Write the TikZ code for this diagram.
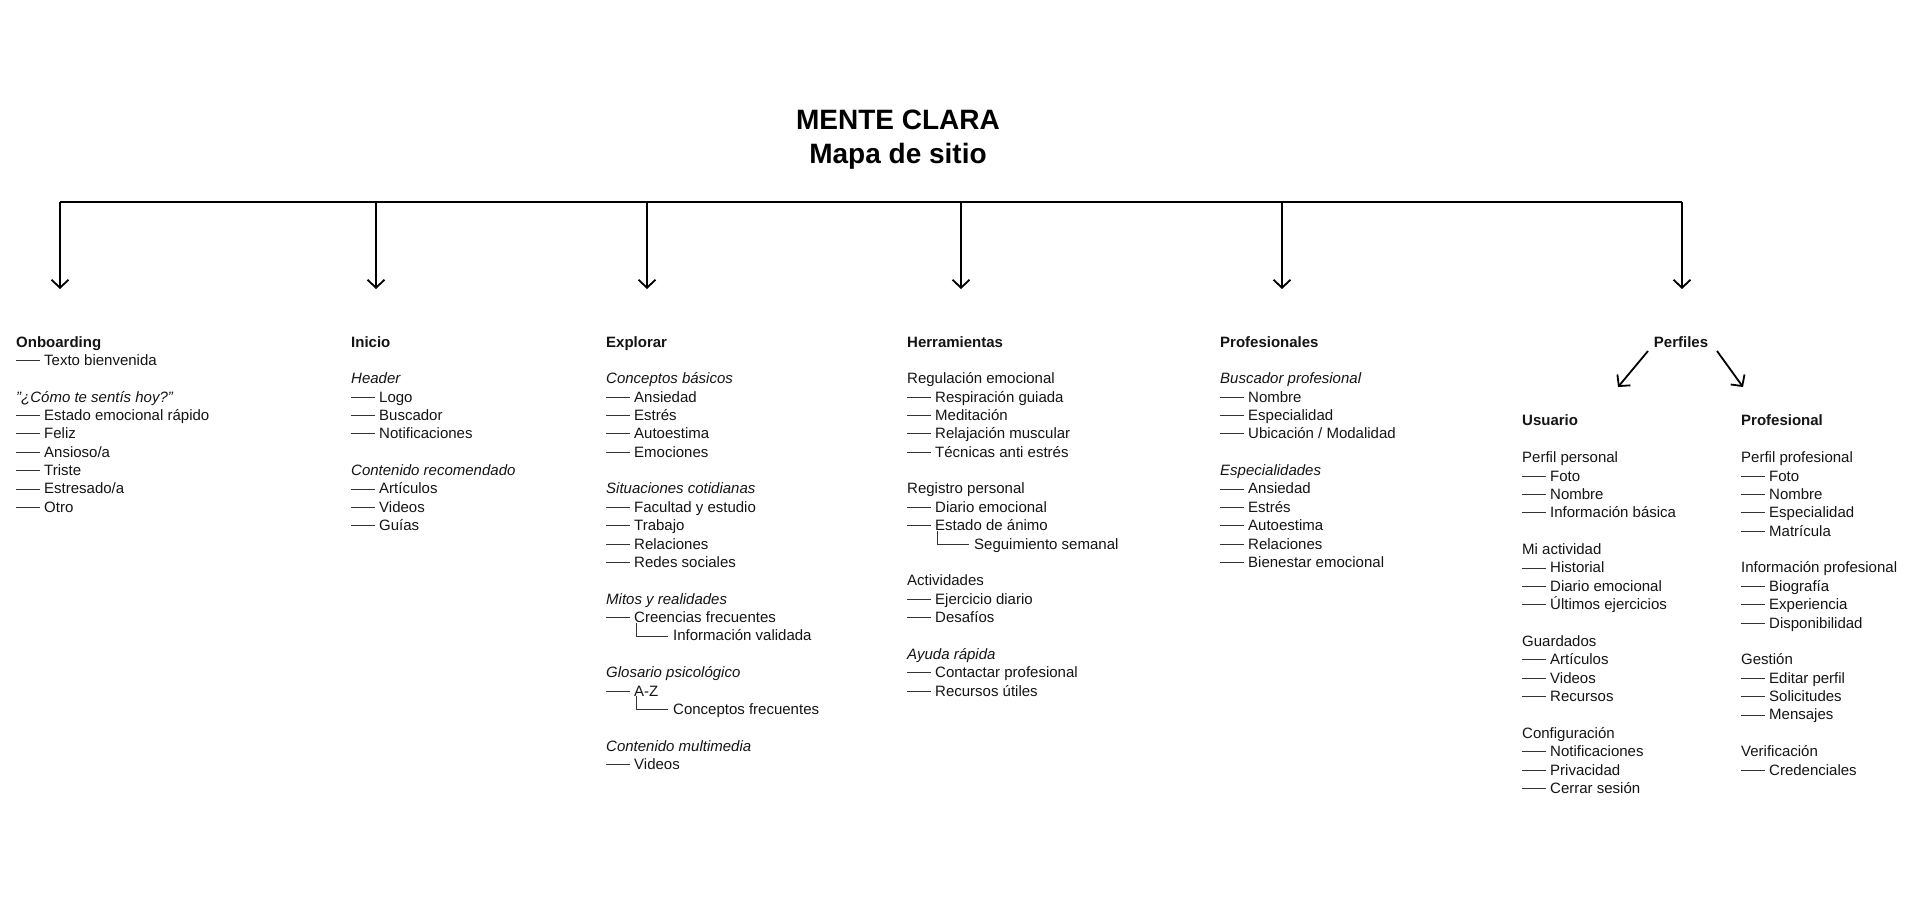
\documentclass[tikz,border=0pt]{standalone}
\usepackage{fontspec}
\setmainfont{Liberation Sans}
\usetikzlibrary{arrows.meta}
\newcounter{nn}
\tikzset{
  txt/.style={anchor=base west,inner sep=0pt,font=\fontsize{15}{18}\selectfont,text=black!92},
  bold/.style={txt,font=\fontsize{15}{18}\selectfont\bfseries},
  ital/.style={txt,font=\fontsize{15}{18}\selectfont\itshape},
  lfdash/.style={line width=0.8pt,black!80},
  arr/.style={line width=1.8pt,-{Straight Barb[length=8pt,width=17pt,line width=1.8pt]}},
}
\newcommand\ry[1]{{347+18.37*(#1)}}
\newcommand\Hd[3]{\stepcounter{nn}\node[bold] (n\thenn) at (#1,\ry{#2}) {#3};}
\newcommand\Gp[3]{\stepcounter{nn}\node[ital] (n\thenn) at (#1,\ry{#2}) {#3};}
\newcommand\Rg[3]{\stepcounter{nn}\node[txt] (n\thenn) at (#1,\ry{#2}) {#3};}
\newcommand\Lf[3]{\stepcounter{nn}%
  \coordinate (d\thenn) at (#1,{347+18.37*(#2)-5});
  \node[txt] (n\thenn) at ({#1+28},\ry{#2}) {#3};
  \draw[lfdash] (d\thenn) -- ++(24,0);}
\newcommand\Sb[3]{\stepcounter{nn}%
  \coordinate (s\thenn) at ({#1+30},{347+18.37*(#2)-5-13});
  \coordinate (d\thenn) at ({#1+30},{347+18.37*(#2)-5});
  \node[txt] (n\thenn) at ({#1+67},\ry{#2}) {#3};
  \draw[lfdash] (s\thenn) -- (d\thenn) -- ++(32,0);}
\begin{document}
\begin{tikzpicture}[x=1pt,y=-1pt]
\useasboundingbox (0,0) rectangle (1920,900);
\node[font=\fontsize{28}{34}\selectfont\bfseries,align=center,inner sep=0pt] (title) at (898,140) {MENTE CLARA\\Mapa de sitio};
\foreach \i/\x in {1/60,2/376,3/647,4/961,5/1282,6/1682}{
  \coordinate (t\i) at (\x,202);
  \coordinate (h\i) at (\x,289);
  \draw[arr] (t\i) -- (h\i);
}
\draw[line width=1.5pt] (t1) -- (t6);
% Onboarding
\Hd{16}{0}{Onboarding}
\Lf{16}{1}{Texto bienvenida}
\Gp{16}{3}{"¿Cómo te sentís hoy?"}
\Lf{16}{4}{Estado emocional rápido}
\Lf{16}{5}{Feliz}
\Lf{16}{6}{Ansioso/a}
\Lf{16}{7}{Triste}
\Lf{16}{8}{Estresado/a}
\Lf{16}{9}{Otro}
% Inicio
\Hd{351}{0}{Inicio}
\Gp{351}{2}{Header}
\Lf{351}{3}{Logo}
\Lf{351}{4}{Buscador}
\Lf{351}{5}{Notificaciones}
\Gp{351}{7}{Contenido recomendado}
\Lf{351}{8}{Artículos}
\Lf{351}{9}{Videos}
\Lf{351}{10}{Guías}
% Explorar
\Hd{606}{0}{Explorar}
\Gp{606}{2}{Conceptos básicos}
\Lf{606}{3}{Ansiedad}
\Lf{606}{4}{Estrés}
\Lf{606}{5}{Autoestima}
\Lf{606}{6}{Emociones}
\Gp{606}{8}{Situaciones cotidianas}
\Lf{606}{9}{Facultad y estudio}
\Lf{606}{10}{Trabajo}
\Lf{606}{11}{Relaciones}
\Lf{606}{12}{Redes sociales}
\Gp{606}{14}{Mitos y realidades}
\Lf{606}{15}{Creencias frecuentes}
\Sb{606}{16}{Información validada}
\Gp{606}{18}{Glosario psicológico}
\Lf{606}{19}{A-Z}
\Sb{606}{20}{Conceptos frecuentes}
\Gp{606}{22}{Contenido multimedia}
\Lf{606}{23}{Videos}
% Herramientas
\Hd{907}{0}{Herramientas}
\Rg{907}{2}{Regulación emocional}
\Lf{907}{3}{Respiración guiada}
\Lf{907}{4}{Meditación}
\Lf{907}{5}{Relajación muscular}
\Lf{907}{6}{Técnicas anti estrés}
\Rg{907}{8}{Registro personal}
\Lf{907}{9}{Diario emocional}
\Lf{907}{10}{Estado de ánimo}
\Sb{907}{11}{Seguimiento semanal}
\Rg{907}{13}{Actividades}
\Lf{907}{14}{Ejercicio diario}
\Lf{907}{15}{Desafíos}
\Gp{907}{17}{Ayuda rápida}
\Lf{907}{18}{Contactar profesional}
\Lf{907}{19}{Recursos útiles}
% Profesionales
\Hd{1220}{0}{Profesionales}
\Gp{1220}{2}{Buscador profesional}
\Lf{1220}{3}{Nombre}
\Lf{1220}{4}{Especialidad}
\Lf{1220}{5}{Ubicación / Modalidad}
\Gp{1220}{7}{Especialidades}
\Lf{1220}{8}{Ansiedad}
\Lf{1220}{9}{Estrés}
\Lf{1220}{10}{Autoestima}
\Lf{1220}{11}{Relaciones}
\Lf{1220}{12}{Bienestar emocional}
% Perfiles
\node[bold,anchor=base] (perf) at (1681,\ry{0}) {Perfiles};
\coordinate (pl1) at (1648,351); \coordinate (pl2) at (1618,387);
\coordinate (pr1) at (1717,351); \coordinate (pr2) at (1743,387);
\draw[arr] (pl1) -- (pl2);
\draw[arr] (pr1) -- (pr2);
\Hd{1522}{4.3}{Usuario}
\Rg{1522}{6.3}{Perfil personal}
\Lf{1522}{7.3}{Foto}
\Lf{1522}{8.3}{Nombre}
\Lf{1522}{9.3}{Información básica}
\Rg{1522}{11.3}{Mi actividad}
\Lf{1522}{12.3}{Historial}
\Lf{1522}{13.3}{Diario emocional}
\Lf{1522}{14.3}{Últimos ejercicios}
\Rg{1522}{16.3}{Guardados}
\Lf{1522}{17.3}{Artículos}
\Lf{1522}{18.3}{Videos}
\Lf{1522}{19.3}{Recursos}
\Rg{1522}{21.3}{Configuración}
\Lf{1522}{22.3}{Notificaciones}
\Lf{1522}{23.3}{Privacidad}
\Lf{1522}{24.3}{Cerrar sesión}
\Hd{1741}{4.3}{Profesional}
\Rg{1741}{6.3}{Perfil profesional}
\Lf{1741}{7.3}{Foto}
\Lf{1741}{8.3}{Nombre}
\Lf{1741}{9.3}{Especialidad}
\Lf{1741}{10.3}{Matrícula}
\Rg{1741}{12.3}{Información profesional}
\Lf{1741}{13.3}{Biografía}
\Lf{1741}{14.3}{Experiencia}
\Lf{1741}{15.3}{Disponibilidad}
\Rg{1741}{17.3}{Gestión}
\Lf{1741}{18.3}{Editar perfil}
\Lf{1741}{19.3}{Solicitudes}
\Lf{1741}{20.3}{Mensajes}
\Rg{1741}{22.3}{Verificación}
\Lf{1741}{23.3}{Credenciales}
\end{tikzpicture}
\end{document}
